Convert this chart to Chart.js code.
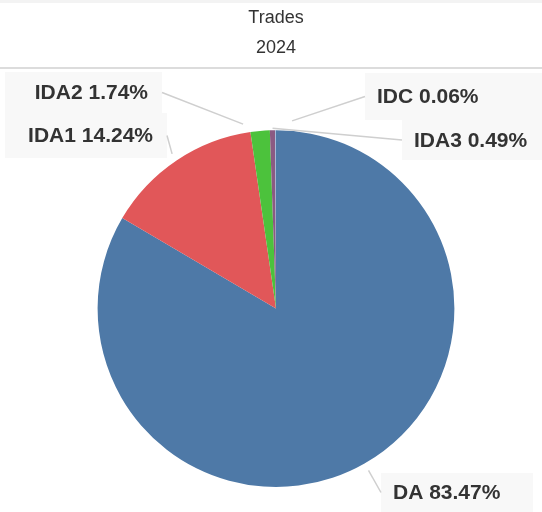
<!DOCTYPE html>
<html>
<head>
<meta charset="utf-8">
<script src="https://cdn.jsdelivr.net/npm/chart.js@4.4.1/dist/chart.umd.min.js"></script>
<style>
  body { margin: 0; background: #fff; }
  #wrap { width: 542px; height: 512px; position: relative; }
</style>
</head>
<body>
<div id="wrap"><canvas id="pie" width="542" height="512"></canvas></div>
<script>
// data
const markets = ["DA", "IDA1", "IDA2", "IDA3", "IDC"];
const shares = [83.47, 14.24, 1.74, 0.49, 0.06];
const colors = ["#4e79a7", "#e15759", "#4cc23c", "#8b5a82", "#8db6dc"];
const chartTitle = "Trades";
const chartSubtitle = "2024";

// where each label box sits (layout only); tilt = degrees the leader start is nudged
const labelBoxes = [
  { x: 381, y: 473, w: 152, h: 39, side: "right", gap: 8, tilt: 0 },
  { x: 5, y: 113, w: 162, h: 45, side: "left", gap: 8, tilt: 0 },
  { x: 5, y: 72, w: 157, h: 41, side: "left", gap: 9, tilt: -5 },
  { x: 402, y: 120, w: 140, h: 40, side: "right", gap: 2, tilt: 0 },
  { x: 365, y: 73, w: 177, h: 47, side: "right", gap: 10, tilt: 5 },
];

const frameLines = {
  id: "frameLines",
  beforeDraw(chart) {
    const ctx = chart.ctx;
    ctx.save();
    ctx.fillStyle = "#f3f3f3";
    ctx.fillRect(0, 0, chart.width, 3);
    ctx.fillStyle = "#dcdcdc";
    ctx.fillRect(0, 67, chart.width, 2);
    ctx.restore();
  },
};

const sliceLabels = {
  id: "sliceLabels",
  afterDatasetsDraw(chart) {
    const ctx = chart.ctx;
    const meta = chart.getDatasetMeta(0);
    ctx.save();
    meta.data.forEach((arc, i) => {
      const box = labelBoxes[i];
      const p = arc.getProps(["x", "y", "startAngle", "endAngle", "outerRadius"], true);
      const mid = (p.startAngle + p.endAngle) / 2 + (box.tilt * Math.PI) / 180;
      const r = p.outerRadius + box.gap;
      const ax = p.x + Math.cos(mid) * r;
      const ay = p.y + Math.sin(mid) * r;

      ctx.fillStyle = "#f8f8f8";
      ctx.fillRect(box.x, box.y, box.w, box.h);

      const ex = box.side === "left" ? box.x + box.w : box.x;
      const ey = box.y + box.h / 2;
      ctx.strokeStyle = "#cfcfcf";
      ctx.lineWidth = 1.5;
      ctx.beginPath();
      ctx.moveTo(ax, ay);
      ctx.lineTo(ex, ey);
      ctx.stroke();

      ctx.fillStyle = "#333";
      ctx.font = "bold 21px 'Liberation Sans', Arial, sans-serif";
      ctx.textBaseline = "middle";
      const txt = markets[i] + " " + shares[i].toFixed(2) + "%";
      if (box.side === "left") {
        ctx.textAlign = "right";
        ctx.fillText(txt, box.x + box.w - 14, ey + 1);
      } else {
        ctx.textAlign = "left";
        ctx.fillText(txt, box.x + 12, ey + 1);
      }
    });
    ctx.restore();
  },
};

new Chart(document.getElementById("pie"), {
  type: "pie",
  data: {
    labels: markets,
    datasets: [
      {
        data: shares,
        backgroundColor: colors,
        borderWidth: 0,
      },
    ],
  },
  options: {
    responsive: false,
    animation: false,
    layout: { padding: { top: 0, bottom: 25, left: 10, right: 0 } },
    plugins: {
      legend: { display: false },
      tooltip: { enabled: false },
      title: {
        display: true,
        text: chartTitle,
        color: "#333",
        font: { family: "'Liberation Sans', Arial, sans-serif", size: 18, weight: "normal" },
        padding: { top: 7, bottom: 9 },
      },
      subtitle: {
        display: true,
        text: chartSubtitle,
        color: "#333",
        font: { family: "'Liberation Sans', Arial, sans-serif", size: 18, weight: "normal" },
        padding: { top: 0, bottom: 71 },
      },
    },
  },
  plugins: [frameLines, sliceLabels],
});
</script>
</body>
</html>
